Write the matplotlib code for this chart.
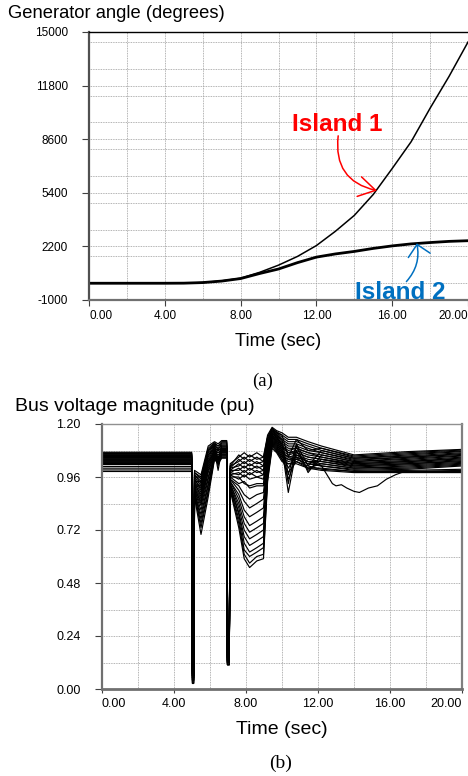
import numpy as np
import matplotlib
matplotlib.use('Agg')
import matplotlib.pyplot as plt
from matplotlib.ticker import MultipleLocator

plt.rcParams['font.family'] = ['Liberation Sans', 'DejaVu Sans']

# ---- (a) generator angles, degrees ----
t_ang = [0, 2, 4, 5, 6, 7, 8, 9, 10, 11, 12, 13, 14, 15, 16, 17, 18, 19, 20]
island1 = [0, 0, 0, 5, 40, 140, 300, 650, 1080, 1600, 2250, 3100, 4050, 5300,
           6850, 8450, 10450, 12350, 14400]
island2 = [0, 0, 0, 5, 40, 130, 280, 580, 850, 1230, 1560, 1750, 1900, 2080,
           2230, 2350, 2430, 2500, 2540]
ang_ticks = [-1000, 2200, 5400, 8600, 11800, 15000]
time_ticks = [0, 4, 8, 12, 16, 20]

# ---- (b) bus voltage magnitudes, pu ----
# key instants of the simulation, and the value each bus has at them
key_t = [0.0, 4.98, 5.02, 5.10, 5.14, 5.50, 5.90, 6.25, 6.45, 6.65, 6.93, 6.97,
         7.07, 7.12, 7.60, 7.90, 8.20, 8.60, 8.97, 9.20, 9.45, 9.70, 10.0, 10.35,
         10.8, 11.45, 12.2, 14.0, 17.0, 20.0]
v0 = [1.072, 1.069, 1.066, 1.064, 1.061, 1.058, 1.056, 1.053, 1.050, 1.048, 1.045, 1.042,
      1.040, 1.037, 1.034, 1.031, 1.028, 1.025, 1.021, 1.017, 1.008, 1.000, 0.992, 0.985]
d1 = [0.11, 0.10, 0.12, 0.09, 0.10, 0.08, 0.11, 0.09, 0.07, 0.10, 0.08, 0.06,
      0.09, 0.07, 0.05, 0.08, 0.06, 0.04, 0.07, 0.05, 0.03, 0.06, 0.025, 0.04]
r1 = [0.99, 0.98, 0.98, 0.97, 0.97, 0.96, 0.96, 0.95, 0.95, 0.94, 0.94, 0.93,
      0.93, 0.92, 0.92, 0.91, 0.91, 0.90, 0.90, 0.89, 0.89, 0.88, 0.88, 0.87]
a1 = [0.97, 0.96, 0.95, 0.94, 0.93, 0.96, 0.92, 0.91, 0.90, 0.94, 0.89, 0.88,
      0.87, 0.86, 0.92, 0.85, 0.84, 0.83, 0.81, 0.79, 0.77, 0.75, 0.73, 0.70]
m1 = [1.10, 1.09, 1.08, 1.08, 1.07, 1.08, 1.06, 1.05, 1.04, 1.06, 1.03, 1.02,
      1.01, 1.00, 1.03, 0.99, 0.98, 0.96, 0.95, 0.93, 0.92, 0.90, 0.89, 0.87]
p1 = [1.12, 1.115, 1.11, 1.11, 1.105, 1.10, 1.10, 1.095, 1.09, 1.09, 1.085, 1.08,
      1.08, 1.075, 1.07, 1.07, 1.065, 1.06, 1.06, 1.055, 1.05, 1.05, 1.045, 1.04]
n1 = [1.11, 1.10, 1.08, 1.10, 1.04, 1.09, 1.09, 1.01, 1.08, 1.08, 1.07, 0.99,
      1.07, 1.06, 1.05, 1.03, 1.05, 1.05, 1.04, 1.04, 1.03, 1.03, 1.02, 1.02]
q1 = [1.125, 1.12, 1.115, 1.11, 1.105, 1.10, 1.10, 1.095, 1.09, 1.09, 1.085, 1.08,
      1.08, 1.075, 1.07, 1.07, 1.065, 1.06, 1.06, 1.06, 1.055, 1.05, 1.05, 1.045]
d2 = [0.15, 0.14, 0.15, 0.13, 0.14, 0.13, 0.14, 0.12, 0.13, 0.14, 0.12, 0.13,
      0.12, 0.14, 0.12, 0.13, 0.11, 0.12, 0.13, 0.11, 0.12, 0.11, 0.12, 0.11]
r2 = [1.02, 1.01, 1.01, 1.00, 1.00, 0.99, 0.99, 0.98, 0.98, 0.97, 0.97, 0.96,
      0.96, 0.95, 0.95, 0.94, 0.94, 0.93, 0.93, 0.92, 0.92, 0.91, 0.91, 0.90]
u2 = [1.05, 1.06, 1.03, 1.04, 1.01, 1.02, 0.99, 1.00, 0.97, 0.98, 0.95, 0.96,
      0.93, 0.92, 0.90, 0.88, 0.86, 0.84, 0.82, 0.80, 0.79, 0.77, 0.75, 0.73]
w2 = [1.07, 1.04, 1.05, 1.02, 1.03, 1.00, 1.01, 0.98, 0.99, 0.96, 0.97, 0.93,
      0.94, 0.88, 0.85, 0.81, 0.78, 0.75, 0.72, 0.69, 0.66, 0.63, 0.61, 0.59]
m2 = [1.05, 1.06, 1.03, 1.04, 1.01, 1.02, 0.99, 1.00, 0.97, 0.98, 0.95, 0.92,
      0.91, 0.86, 0.82, 0.78, 0.74, 0.71, 0.68, 0.65, 0.62, 0.60, 0.57, 0.55]
h2 = [1.07, 1.04, 1.05, 1.02, 1.03, 1.00, 1.01, 0.98, 0.99, 0.96, 0.96, 0.93,
      0.92, 0.88, 0.84, 0.80, 0.76, 0.73, 0.70, 0.67, 0.64, 0.62, 0.60, 0.58]
e2 = [1.05, 1.05, 1.03, 1.03, 1.01, 1.01, 0.99, 0.99, 0.97, 0.97, 0.95, 0.93,
      0.92, 0.89, 0.86, 0.82, 0.78, 0.75, 0.72, 0.69, 0.66, 0.64, 0.61, 0.59]
j9 = [1.15, 1.14, 1.14, 1.13, 1.12, 1.12, 1.11, 1.10, 1.10, 1.09, 1.08, 1.07,
      1.06, 1.05, 1.04, 1.03, 1.01, 1.00, 0.99, 0.98, 0.97, 0.96, 0.95, 0.94]
p2 = [1.185, 1.18, 1.18, 1.175, 1.17, 1.17, 1.165, 1.16, 1.16, 1.155, 1.15, 1.15,
      1.145, 1.14, 1.14, 1.135, 1.13, 1.125, 1.12, 1.115, 1.11, 1.105, 1.10, 1.09]
k9 = [1.17, 1.165, 1.16, 1.16, 1.155, 1.15, 1.15, 1.145, 1.14, 1.14, 1.135, 1.13,
      1.125, 1.12, 1.115, 1.11, 1.105, 1.10, 1.095, 1.09, 1.085, 1.08, 1.075, 1.07]
b10 = [1.16, 1.15, 1.15, 1.14, 1.13, 1.13, 1.12, 1.11, 1.11, 1.10, 1.10, 1.09,
       1.09, 1.08, 1.08, 1.07, 1.07, 1.06, 1.06, 1.05, 1.05, 1.04, 1.04, 1.03]
n3 = [1.14, 1.05, 1.13, 1.12, 0.97, 1.11, 1.10, 0.93, 1.09, 1.08, 1.07, 0.89,
      1.07, 1.06, 1.00, 1.05, 1.05, 0.95, 1.04, 1.04, 1.03, 0.98, 1.02, 1.02]
b11 = [1.14, 1.13, 1.13, 1.12, 1.11, 1.11, 1.10, 1.10, 1.09, 1.09, 1.08, 1.08,
       1.07, 1.07, 1.06, 1.06, 1.05, 1.05, 1.05, 1.04, 1.04, 1.03, 1.03, 1.02]
n4 = [1.12, 1.08, 1.11, 1.10, 1.01, 1.09, 1.08, 0.98, 1.07, 1.07, 1.06, 0.99,
      1.05, 1.05, 1.03, 1.04, 1.03, 1.00, 1.03, 1.02, 1.02, 1.00, 1.01, 1.00]
s12 = [1.10, 1.09, 1.09, 1.08, 1.08, 1.07, 1.07, 1.06, 1.06, 1.05, 1.05, 1.04,
       1.04, 1.04, 1.03, 1.03, 1.02, 1.02, 1.01, 1.01, 1.00, 1.00, 0.995, 0.99]
s14 = [1.06, 1.055, 1.05, 1.045, 1.045, 1.04, 1.035, 1.03, 1.03, 1.025, 1.02, 1.02,
       1.015, 1.01, 1.01, 1.005, 1.0, 1.0, 0.995, 0.99, 0.99, 0.985, 0.985, 0.98]
s17 = [1.075, 1.07, 1.065, 1.06, 1.055, 1.05, 1.05, 1.045, 1.04, 1.035, 1.03, 1.03,
       1.025, 1.02, 1.02, 1.015, 1.01, 1.005, 1.0, 0.995, 0.99, 0.99, 0.985, 0.98]
s20 = [1.085, 1.082, 1.078, 1.075, 1.07, 1.066, 1.062, 1.058, 1.055, 1.05, 1.046, 1.042,
       1.038, 1.034, 1.03, 1.026, 1.022, 1.018, 1.014, 1.01, 1.0, 0.995, 0.99, 0.98]
# one bus sags after 12 s
sag_bus = 20
sag_t = [12.2, 12.5, 12.8, 13.0, 13.3, 13.6, 14.0, 14.3, 14.8, 15.3, 15.8, 16.3, 16.8, 20.0]
sag_v = [1.01, 0.97, 0.93, 0.92, 0.925, 0.91, 0.895, 0.89, 0.91, 0.92, 0.95, 0.97, 0.985, 0.985]
volt_ticks = [0.0, 0.24, 0.48, 0.72, 0.96, 1.20]

columns = [v0, v0, d1, d1, r1, a1, m1, p1, n1, q1, q1, d2, d2, r2, u2, w2, m2, h2,
           e2, j9, p2, k9, b10, n3, b11, n4, s12, s14, s17, s20]

fig = plt.figure(figsize=(4.68, 7.76), dpi=100)
grid_kw = dict(color='#9a9a9a', linewidth=0.6, linestyle=(0, (1, 1)))

# ---------------- (a) ----------------
ax1 = fig.add_axes([89 / 468, 1 - 300 / 776, 1 - 89 / 468, 268 / 776])
ax1.plot(t_ang, island2, color='black', lw=2.0)
ax1.plot(t_ang, island1, color='black', lw=1.1)
ax1.set_xlim(0, 20)
ax1.set_ylim(-1000, 15000)
ax1.set_yticks(ang_ticks)
ax1.set_yticklabels([str(v) for v in ang_ticks])
ax1.yaxis.set_minor_locator(MultipleLocator(1600))
ax1.set_xticks(time_ticks)
ax1.set_xticklabels(['%.2f' % v for v in time_ticks])
ax1.xaxis.set_minor_locator(MultipleLocator(2))
ax1.grid(True, which='both', **grid_kw)
ax1.tick_params(axis='y', which='major', length=5, pad=10, labelsize=8.5, color='#404040')
ax1.tick_params(axis='x', which='major', length=4, pad=3.5, labelsize=8.5, color='#404040')
ax1.tick_params(which='minor', length=0)
ax1.spines['right'].set_visible(False)
ax1.spines['top'].set_color('black')
ax1.spines['top'].set_linewidth(1.0)
ax1.spines['left'].set_color('#505050')
ax1.spines['left'].set_linewidth(1.6)
ax1.spines['bottom'].set_color('#707070')
ax1.spines['bottom'].set_linewidth(1.6)
labs = ax1.get_xticklabels()
labs[0].set_ha('left')
labs[-1].set_ha('right')

ax1.text(13.1, 9100, 'Island 1', color='#ff0000', fontsize=17.5, fontweight='bold',
         ha='center', va='baseline')
ax1.annotate('', xy=(15.2, 5530), xytext=(13.15, 8800),
             arrowprops=dict(arrowstyle='->,head_length=0.75,head_width=0.45', color='#ff0000',
                             lw=1.1, mutation_scale=16, shrinkA=0, shrinkB=0,
                             connectionstyle='arc3,rad=0.45'))
ax1.text(16.45, -960, 'Island 2', color='#0070c0', fontsize=17.5, fontweight='bold',
         ha='center', va='baseline')
ax1.annotate('', xy=(17.3, 2380), xytext=(16.75, 100),
             arrowprops=dict(arrowstyle='->,head_length=0.5,head_width=0.5', color='#0070c0',
                             lw=1.1, mutation_scale=16, shrinkA=0, shrinkB=0,
                             connectionstyle='arc3,rad=0.25'))

fig.text(8 / 468, 1 - 13 / 776, 'Generator angle (degrees)', fontsize=13.2, va='center', ha='left')
fig.text(278.5 / 468, 1 - 341.7 / 776, 'Time (sec)', fontsize=13.2, va='center', ha='center')
fig.text(263 / 468, 1 - 381.7 / 776, '(a)', fontsize=13.5, va='center', ha='center',
         family='Liberation Serif')

# ---------------- (b) ----------------
ax2 = fig.add_axes([102 / 468, 1 - 689 / 776, 360 / 468, 265 / 776])
for i in range(len(v0)):
    vals = [col[i] for col in columns]
    if i == sag_bus:
        tt = key_t[:-4] + sag_t
        vv = vals[:-4] + sag_v
    else:
        tt = key_t
        vv = vals
    ax2.plot(tt, vv, color='black', lw=0.85)
ax2.set_xlim(0, 20)
ax2.set_ylim(0, 1.2)
ax2.set_yticks(volt_ticks)
ax2.set_yticklabels(['%.2f' % v for v in volt_ticks])
ax2.yaxis.set_minor_locator(MultipleLocator(0.12))
ax2.set_xticks(time_ticks)
ax2.set_xticklabels(['%.2f' % v for v in time_ticks])
ax2.xaxis.set_minor_locator(MultipleLocator(2))
ax2.grid(True, which='both', **grid_kw)
ax2.tick_params(axis='y', which='major', length=5, pad=10.5, labelsize=9, color='#404040')
ax2.tick_params(axis='x', which='major', length=3, pad=3.5, labelsize=9, color='#404040')
ax2.tick_params(which='minor', length=0)
for side, c, w in [('left', '#707070', 1.6), ('bottom', '#707070', 2.0),
                   ('top', '#909090', 1.0), ('right', '#808080', 1.6)]:
    ax2.spines[side].set_color(c)
    ax2.spines[side].set_linewidth(w)
labs = ax2.get_xticklabels()
labs[0].set_ha('left')
labs[-1].set_ha('right')

fig.text(15 / 468, 1 - 406.7 / 776, 'Bus voltage magnitude (pu)', fontsize=14, va='center', ha='left')
fig.text(282 / 468, 1 - 730 / 776, 'Time (sec)', fontsize=14, va='center', ha='center')
fig.text(280.8 / 468, 1 - 763.3 / 776, '(b)', fontsize=14, va='center', ha='center',
         family='Liberation Serif')

fig.savefig('out.png', dpi=100)
